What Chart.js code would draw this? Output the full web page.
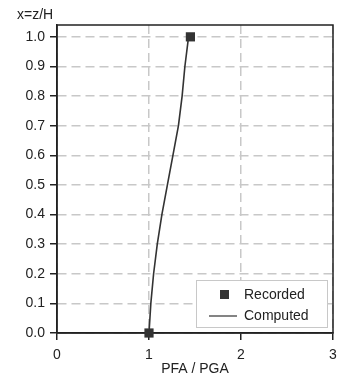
<!DOCTYPE html>
<html>
<head>
<meta charset="utf-8">
<script src="https://cdn.jsdelivr.net/npm/chart.js@4/dist/chart.umd.min.js"></script>
<style>
  html, body { margin: 0; padding: 0; background: #fff; }
  #wrap { width: 354px; height: 381px; position: relative; }
</style>
</head>
<body>
<div id="wrap"><canvas id="pfaChart"></canvas></div>
<script>
// heights x = z/H
const heights = [0.0, 0.1, 0.2, 0.3, 0.4, 0.5, 0.6, 0.7, 0.8, 0.9, 1.0];
// computed PFA / PGA along the height
const computedPfa = [1.0, 1.02, 1.05, 1.09, 1.14, 1.2, 1.26, 1.32, 1.36, 1.39, 1.43];
// recorded points
const recordedHeights = [0.0, 1.0];
const recordedPfa = [1.0, 1.45];
// tick labels
const xTicks = [0, 1, 2, 3];
const yTicks = [0.0, 0.1, 0.2, 0.3, 0.4, 0.5, 0.6, 0.7, 0.8, 0.9, 1.0];

const ink = '#222';
const gridGray = '#c8c8c8';
const fontFamily = '"Liberation Sans", Arial, sans-serif';

// frame round the plot area + y title
const framePlugin = {
    id: 'frame',
    beforeDatasetsDraw(chart) {
        const { ctx, chartArea: a } = chart;
        ctx.save();
        ctx.strokeStyle = ink;
        ctx.lineWidth = 1.5;
        ctx.strokeRect(a.left, a.top, a.right - a.left, a.bottom - a.top);
        ctx.restore();
    },
    afterDraw(chart) {
        const { ctx, chartArea: a } = chart;
        ctx.save();
        ctx.fillStyle = ink;
        ctx.font = '14px ' + fontFamily;
        ctx.textBaseline = 'middle';
        ctx.textAlign = 'left';
        ctx.fillText('x=z/H', a.left - 40, a.top - 10);
        ctx.restore();
    }
};

// legend box inside the plot, bottom right
const insideLegend = {
    id: 'insideLegend',
    afterDraw(chart) {
        const { ctx, chartArea: a } = chart;
        const w = 131, h = 47;
        const x = a.right - 6 - w, y = a.bottom - 6 - h;
        ctx.save();
        ctx.fillStyle = '#fff';
        ctx.fillRect(x, y, w, h);
        ctx.strokeStyle = gridGray;
        ctx.lineWidth = 1;
        ctx.strokeRect(x + 0.5, y + 0.5, w, h);

        ctx.font = '14px ' + fontFamily;
        ctx.textBaseline = 'middle';
        ctx.fillStyle = ink;

        // Recorded
        ctx.fillStyle = '#333';
        ctx.fillRect(x + 24, y + 10, 9, 9);
        ctx.fillStyle = ink;
        ctx.fillText(chart.data.datasets[0].label, x + 48, y + 15);

        // Computed
        ctx.strokeStyle = '#333';
        ctx.lineWidth = 1.2;
        ctx.beginPath();
        ctx.moveTo(x + 13, y + 36);
        ctx.lineTo(x + 41, y + 36);
        ctx.stroke();
        ctx.fillText(chart.data.datasets[1].label, x + 48, y + 36);
        ctx.restore();
    }
};

const ctx = document.getElementById('pfaChart').getContext('2d');
const pfaChart = new Chart(ctx, {
    type: 'scatter',
    data: {
        datasets: [
            {
                label: 'Recorded',
                data: recordedPfa.map((v, i) => ({ x: v, y: recordedHeights[i] })),
                pointStyle: 'rect',
                pointRadius: 6.5,
                backgroundColor: '#333',
                borderColor: '#333',
                borderWidth: 0,
                showLine: false,
                clip: false
            },
            {
                label: 'Computed',
                data: computedPfa.map((v, i) => ({ x: v, y: heights[i] })),
                showLine: true,
                borderColor: '#333',
                borderWidth: 1.6,
                pointRadius: 0,
                fill: false,
                clip: false
            }
        ]
    },
    options: {
        responsive: true,
        maintainAspectRatio: false,
        animation: false,
        layout: {
            padding: { top: 25, right: 21, left: 0, bottom: 0 }
        },
        scales: {
            x: {
                type: 'linear',
                min: 0,
                max: 3,
                afterBuildTicks: function(axis) {
                    axis.ticks = xTicks.map(v => ({ value: v }));
                },
                afterFit: function(axis) {
                    axis.height = 48;
                },
                ticks: {
                    color: ink,
                    padding: 7,
                    font: { family: fontFamily, size: 14 },
                    callback: function(value) {
                        return value;
                    }
                },
                grid: {
                    color: gridGray,
                    lineWidth: 1.5,
                    tickLength: 7,
                    tickColor: ink,
                    tickWidth: 1.5
                },
                border: {
                    color: ink,
                    width: 1.5,
                    dash: [9, 5]
                },
                title: {
                    display: true,
                    text: 'PFA / PGA',
                    color: ink,
                    font: { family: fontFamily, size: 14 },
                    padding: { top: 0, bottom: 3 }
                }
            },
            y: {
                type: 'linear',
                min: 0,
                max: 1.04,
                afterBuildTicks: function(axis) {
                    axis.ticks = yTicks.map(v => ({ value: v }));
                },
                afterFit: function(axis) {
                    axis.width = 57;
                },
                ticks: {
                    color: ink,
                    padding: 5,
                    font: { family: fontFamily, size: 14 },
                    callback: function(value) {
                        return value.toFixed(1);
                    }
                },
                grid: {
                    color: gridGray,
                    lineWidth: 1.5,
                    tickLength: 7,
                    tickColor: ink,
                    tickWidth: 1.5
                },
                border: {
                    color: ink,
                    width: 1.5,
                    dash: [9, 5]
                }
            }
        },
        plugins: {
            legend: { display: false },
            tooltip: { enabled: false }
        }
    },
    plugins: [framePlugin, insideLegend]
});
</script>
</body>
</html>
